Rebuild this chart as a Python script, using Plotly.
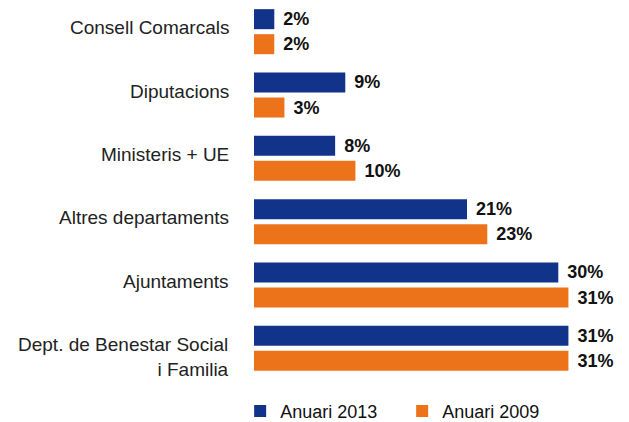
import plotly.graph_objects as go

# Percentage of funding by source, two yearbook editions
categories = [
    "Consell Comarcals",
    "Diputacions",
    "Ministeris + UE",
    "Altres departaments",
    "Ajuntaments",
    "Dept. de Benestar Social<br>i Familia",
]
anuari_2013 = [2, 9, 8, 21, 30, 31]
anuari_2009 = [2, 3, 10, 23, 31, 31]

blue = "#12338a"
orange = "#ec7319"
font_family = "Liberation Sans, Arial, sans-serif"

fig = go.Figure()
for name, values, color in [
    ("Anuari 2013", anuari_2013, blue),
    ("Anuari 2009", anuari_2009, orange),
]:
    fig.add_trace(go.Bar(
        name=name,
        y=categories,
        x=values,
        orientation="h",
        marker=dict(color=color, line=dict(width=0)),
        texttemplate="\u2004%{x}%",
        textposition="outside",
        textfont=dict(family=font_family, size=18, color="#111111", weight="bold"),
        cliponaxis=False,
    ))

# Category labels: right-aligned to the left of the bars, sitting a little
# above the group centre; the two-line label hangs slightly lower.
for cat in categories:
    two_lines = "<br>" in cat
    fig.add_annotation(
        x=0, xref="paper", xanchor="right", xshift=-23,
        y=cat, yref="y", yanchor="middle",
        yshift=-9 if two_lines else 4,
        text=cat, align="right", showarrow=False,
        font=dict(family=font_family, size=19, color="#222222"),
    )

fig.update_layout(
    width=629,
    height=422,
    margin=dict(l=254, r=20, t=0, b=42, autoexpand=False),
    barmode="group",
    bargap=0.21,
    bargroupgap=0.2,
    plot_bgcolor="white",
    paper_bgcolor="white",
    showlegend=True,
    legend=dict(
        orientation="h",
        x=-0.039,
        xanchor="left",
        y=-0.034,
        yanchor="top",
        font=dict(family=font_family, size=18, color="#111111"),
        entrywidth=117,
        traceorder="normal",
    ),
    xaxis=dict(
        range=[0, 35],
        visible=False,
        showgrid=False,
        zeroline=False,
    ),
    yaxis=dict(
        autorange="reversed",
        showgrid=False,
        zeroline=False,
        showline=False,
        ticks="",
        showticklabels=False,
    ),
)

fig.write_html("out.html")
